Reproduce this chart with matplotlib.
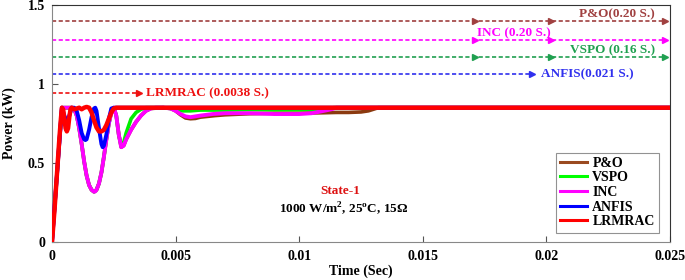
import matplotlib
matplotlib.use("Agg")
import matplotlib.pyplot as plt

plt.rcParams['font.family'] = ['Liberation Serif', 'DejaVu Serif']
plt.rcParams['font.weight'] = 'bold'
plt.rcParams['mathtext.fontset'] = 'custom'
plt.rcParams['mathtext.rm'] = 'Liberation Serif:bold'
plt.rcParams['mathtext.bf'] = 'Liberation Serif:bold'

# ---------------- data ----------------
t_lrmrac = [0, 0.0001, 0.0002, 0.0003, 0.00036, 0.0004, 0.00045, 0.0005, 0.00055, 0.0006,
            0.00065, 0.0007, 0.00075, 0.0008, 0.0009, 0.001, 0.0011, 0.0012, 0.0013, 0.0014,
            0.0015, 0.0016, 0.0017, 0.0018, 0.0019, 0.002, 0.0021, 0.0022, 0.0023, 0.0024,
            0.0025, 0.0026, 0.0028, 0.025]
p_lrmrac = [0, 0.2, 0.43, 0.66, 0.78, 0.85, 0.84, 0.78, 0.72, 0.70,
            0.72, 0.79, 0.84, 0.85, 0.84, 0.845, 0.85, 0.84, 0.85, 0.855,
            0.85, 0.82, 0.77, 0.725, 0.70, 0.70, 0.71, 0.74, 0.78, 0.82,
            0.845, 0.85, 0.85, 0.85]

t_anfis = [0, 0.0004, 0.0005, 0.0006, 0.0007, 0.0008, 0.0009, 0.001, 0.0011, 0.0012,
           0.0013, 0.00135, 0.0014, 0.0015, 0.0016, 0.0017, 0.00175, 0.0018, 0.0019, 0.002,
           0.00205, 0.0021, 0.0022, 0.0023, 0.0024, 0.0025, 0.025]
p_anfis = [0, 0.85, 0.80, 0.76, 0.80, 0.85, 0.85, 0.83, 0.77, 0.69,
           0.65, 0.645, 0.65, 0.71, 0.79, 0.845, 0.85, 0.83, 0.72, 0.62,
           0.60, 0.61, 0.68, 0.78, 0.845, 0.85, 0.85]

t_inc = [0, 0.0004, 0.0008, 0.0009, 0.001, 0.0011, 0.0012, 0.0013, 0.0014, 0.0015,
         0.0016, 0.0017, 0.00175, 0.0018, 0.0019, 0.002, 0.0021, 0.0022, 0.0023, 0.0024,
         0.0025, 0.0026, 0.0027, 0.0028, 0.0029, 0.003, 0.0032, 0.0034, 0.0036, 0.0038,
         0.004, 0.0042, 0.0045, 0.0048, 0.005, 0.0052, 0.0054, 0.0056, 0.006, 0.0065,
         0.007, 0.0075, 0.008, 0.009, 0.01, 0.0105, 0.011, 0.0113, 0.0115, 0.025]
p_inc = [0, 0.85, 0.85, 0.84, 0.80, 0.72, 0.62, 0.51, 0.42, 0.36,
         0.33, 0.318, 0.32, 0.33, 0.37, 0.44, 0.54, 0.65, 0.75, 0.82,
         0.85, 0.80, 0.68, 0.60, 0.61, 0.65, 0.71, 0.76, 0.80, 0.83,
         0.845, 0.85, 0.85, 0.845, 0.83, 0.81, 0.795, 0.79, 0.80, 0.81,
         0.815, 0.815, 0.815, 0.81, 0.81, 0.815, 0.83, 0.84, 0.85, 0.85]

t_vspo = [0, 0.0004, 0.0008, 0.0009, 0.001, 0.0011, 0.0012, 0.0013, 0.0014, 0.0015,
          0.0016, 0.0017, 0.0018, 0.0019, 0.002, 0.0021, 0.0022, 0.0023, 0.0024, 0.0025,
          0.0026, 0.0027, 0.0028, 0.0029, 0.003, 0.0032, 0.0034, 0.0036, 0.0038, 0.004,
          0.0045, 0.0048, 0.005, 0.0053, 0.0056, 0.006, 0.007, 0.008, 0.009, 0.01,
          0.0108, 0.0112, 0.0114, 0.025]
p_vspo = [0, 0.85, 0.85, 0.84, 0.80, 0.72, 0.62, 0.51, 0.42, 0.36,
          0.33, 0.318, 0.33, 0.37, 0.44, 0.54, 0.65, 0.75, 0.82, 0.85,
          0.80, 0.68, 0.61, 0.63, 0.69, 0.78, 0.82, 0.84, 0.85, 0.85,
          0.85, 0.845, 0.835, 0.83, 0.83, 0.835, 0.835, 0.838, 0.838, 0.838,
          0.84, 0.845, 0.85, 0.85]

t_po = [0, 0.0004, 0.0008, 0.0009, 0.001, 0.0011, 0.0012, 0.0013, 0.0014, 0.0015,
        0.0016, 0.0017, 0.0018, 0.0019, 0.002, 0.0021, 0.0022, 0.0023, 0.0024, 0.0025,
        0.0026, 0.0027, 0.0028, 0.0029, 0.003, 0.0032, 0.0034, 0.0036, 0.0038, 0.004,
        0.0045, 0.0048, 0.005, 0.0052, 0.0054, 0.0056, 0.0058, 0.006, 0.0066, 0.007,
        0.008, 0.009, 0.01, 0.011, 0.0115, 0.012, 0.0125, 0.0128, 0.013, 0.0132, 0.025]
p_po = [0, 0.85, 0.85, 0.84, 0.80, 0.72, 0.62, 0.51, 0.42, 0.36,
        0.33, 0.318, 0.33, 0.37, 0.44, 0.54, 0.65, 0.75, 0.82, 0.85,
        0.80, 0.68, 0.60, 0.61, 0.65, 0.71, 0.76, 0.80, 0.83, 0.845,
        0.85, 0.845, 0.83, 0.805, 0.785, 0.78, 0.782, 0.79, 0.80, 0.805,
        0.812, 0.815, 0.815, 0.818, 0.82, 0.82, 0.823, 0.83, 0.84, 0.85, 0.85]

series_names = ['P&O', 'VSPO', 'INC', 'ANFIS', 'LRMRAC']

# convergence annotation lines: level, arrow head positions, label
conv_levels = [1.40, 1.28, 1.17, 1.063, 0.943]
conv_ends = [0.0248, 0.0248, 0.0248, 0.0194, 0.0035]
conv_heads = [[0.0171, 0.0202, 0.0248], [0.0171, 0.0202, 0.0248],
              [0.0171, 0.0202, 0.0248], [0.0194], [0.0035]]
conv_labels = ['P&O(0.20 S.)', 'INC (0.20 S.)', 'VSPO (0.16 S.)', 'ANFIS(0.021 S.)',
               'LRMRAC (0.0038 S.)']

x_ticks = [0, 0.005, 0.01, 0.015, 0.02, 0.025]
x_ticklabels = ['0', '0.005', '0.01', '0.015', '0.02', '0.025']
y_ticks = [0, 0.5, 1, 1.5]
y_ticklabels = ['0', '0.5', '1', '1.5']

# ---------------- figure ----------------
fig = plt.figure(figsize=(6.85, 2.8), dpi=100)
ax = fig.add_axes([52/685, 1-242/280, 618/685, 237/280])

curve_colors = ['#8B3A10', '#00ee00', '#ff00ff', '#0000ff', '#ff0000']
legend_colors = ['#9a4a20', '#00ff00', '#ff00ff', '#0000ff', '#ff0000']
data = [(t_po, p_po), (t_vspo, p_vspo), (t_inc, p_inc), (t_anfis, p_anfis), (t_lrmrac, p_lrmrac)]
lws = [2.6, 2.6, 2.8, 2.8, 3.2]
for (tt, pp), c, lw in zip(data, curve_colors, lws):
    ax.plot(tt, pp, color=c, lw=lw, solid_joinstyle='round', zorder=3)

# convergence dashed arrows
conv_colors = ['#a04040', '#ff00ff', '#20a050', '#3030ee', '#ee1111']
for lev, xe, heads, c in zip(conv_levels, conv_ends, conv_heads, conv_colors):
    ax.plot([0, xe], [lev, lev], color=c, lw=1.2, ls=(0, (2.5, 1.5)), zorder=2)
    ax.plot(heads, [lev]*len(heads), ls='none', marker='>', ms=5, color=c, zorder=2)

tkw = dict(fontsize=9.5, fontweight='bold')
ax.text(0.0244, 1.405, conv_labels[0], color='#a04040', ha='right', va='bottom', **tkw)
ax.text(0.0187, 1.285, conv_labels[1], color='#ff00ff', ha='center', va='bottom', **tkw)
ax.text(0.0244, 1.175, conv_labels[2], color='#20a050', ha='right', va='bottom', **tkw)
ax.text(0.0198, 1.063, conv_labels[3], color='#3030ee', ha='left', va='center', **tkw)
ax.text(0.0038, 0.943, conv_labels[4], color='#ee1111', ha='left', va='center', **tkw)

ax.text(0.01168, 0.32, 'State-1', color='#dd1111', ha='center', va='center',
        fontsize=9.5, fontweight='bold')
ax.text(0.0118, 0.212, '1000 W/m$^2$, 25$^{\\rm o}$C, 15\u03a9', color='black',
        ha='center', va='center', fontsize=9.5, fontweight='bold')

ax.set_xlim(0, 0.025)
ax.set_ylim(0, 1.5)
ax.set_xticks(x_ticks)
ax.set_xticklabels(x_ticklabels)
ax.set_yticks(y_ticks)
ax.set_yticklabels(y_ticklabels)
ax.tick_params(direction='in', length=4, labelsize=10, width=0.8, color='#555555')
ax.tick_params(axis='x', pad=6)
ax.tick_params(axis='y', pad=5)
for lab in ax.get_xticklabels() + ax.get_yticklabels():
    lab.set_fontweight('bold')
ax.set_xlabel('Time (Sec)', fontsize=10, fontweight='bold')
ax.xaxis.set_label_coords(0.5, -0.095)
ax.set_ylabel('Power (kW)', fontsize=10, fontweight='bold')
ax.yaxis.set_label_coords(-0.058, 0.5)
for s in ['left', 'bottom']:
    ax.spines[s].set_color('#888888')
for s in ['top', 'right']:
    ax.spines[s].set_color('#333333')

from matplotlib.lines import Line2D
handles = [Line2D([0], [0], color=c, lw=2.2) for c in legend_colors]
leg = ax.legend(handles, series_names, loc='lower right', bbox_to_anchor=(0.982, 0.04),
                prop={'weight': 'bold', 'size': 10}, frameon=True, fancybox=False,
                handlelength=2.0, handletextpad=0.35, labelspacing=0.12, borderpad=0.3,
                borderaxespad=0)
leg.get_frame().set_edgecolor('#777777')
leg.get_frame().set_linewidth(0.8)

fig.savefig('out.png', dpi=100)
